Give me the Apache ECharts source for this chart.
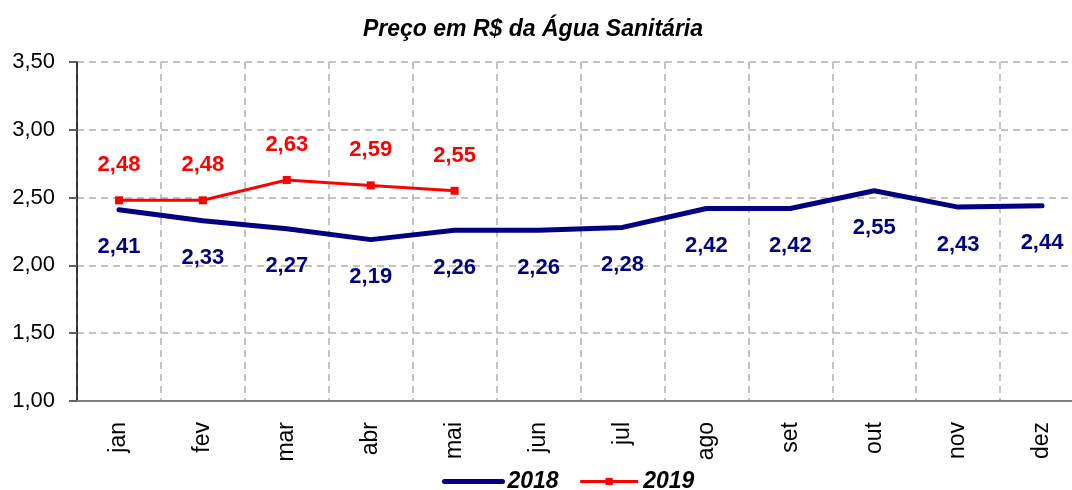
<!DOCTYPE html>
<html>
<head>
<meta charset="utf-8">
<script src="https://cdn.jsdelivr.net/npm/echarts@6/dist/echarts.min.js"></script>
<style>
  html, body { margin: 0; padding: 0; background: #fff; overflow: hidden; }
  #chart { width: 1084px; height: 490px; }
</style>
</head>
<body>
<div id="chart"></div>
<script>
const months = ['jan', 'fev', 'mar', 'abr', 'mai', 'jun', 'jul', 'ago', 'set', 'out', 'nov', 'dez']
const values2018 = [2.41, 2.33, 2.27, 2.19, 2.26, 2.26, 2.28, 2.42, 2.42, 2.55, 2.43, 2.44]
const values2019 = [2.48, 2.48, 2.63, 2.59, 2.55]

const fmt = v => v.toFixed(2).replace('.', ',')
const font = 'Liberation Sans, Arial, sans-serif'

// the plot runs a little past the right edge of the picture, as in the original
const chart = echarts.init(document.getElementById('chart'))
chart.setOption({
  animation: false,
  title: {
    text: 'Preço em R$ da Água Sanitária',
    left: 358,
    top: 13,
    textStyle: { fontFamily: font, fontSize: 23, fontWeight: 'bold', fontStyle: 'italic', color: '#000' }
  },
  grid: { left: 77, top: 62, right: 0, bottom: 89, containLabel: false },
  legend: {
    bottom: -8,
    left: 437,
    itemWidth: 58,
    itemHeight: 9,
    itemGap: 20,
    textStyle: { fontFamily: font, fontSize: 23, fontWeight: 'bold', fontStyle: 'italic', color: '#000' },
    data: [
      { name: '2018', lineStyle: { width: 5 } },
      { name: '2019', lineStyle: { width: 3 } }
    ]
  },
  xAxis: {
    type: 'category',
    data: months,
    boundaryGap: true,
    axisLine: { lineStyle: { color: '#808080', width: 2 } },
    axisTick: { length: 8, lineStyle: { color: '#606060', width: 2 } },
    axisLabel: { rotate: 90, margin: 21, fontFamily: font, fontSize: 23, color: '#000' },
    splitLine: { show: true, lineStyle: { color: '#b0b0b0', type: [7, 5], width: 1.5 } }
  },
  yAxis: {
    type: 'value',
    min: 1,
    max: 3.5,
    interval: 0.5,
    axisLine: { show: true, lineStyle: { color: '#000', width: 1.5 } },
    axisTick: { show: true, length: 8, lineStyle: { color: '#606060', width: 2 } },
    axisLabel: { formatter: fmt, margin: 22, fontFamily: font, fontSize: 22, color: '#000' },
    splitLine: { show: true, lineStyle: { color: '#b0b0b0', type: [7, 5], width: 1.5 } }
  },
  series: [
    {
      name: '2018',
      type: 'line',
      data: values2018,
      symbol: 'circle',
      symbolSize: 1,
      showAllSymbol: true,
      color: '#000080',
      itemStyle: { color: 'rgba(0,0,0,0)' },
      lineStyle: { color: '#000080', width: 5, cap: 'round' },
      label: {
        show: true,
        position: 'bottom',
        distance: 26,
        formatter: p => fmt(p.value),
        fontFamily: font, fontSize: 22, fontWeight: 'bold', color: '#000080'
      }
    },
    {
      name: '2019',
      type: 'line',
      data: values2019,
      symbol: 'rect',
      symbolSize: 8,
      showAllSymbol: true,
      color: '#ff0000',
      itemStyle: { color: '#ff0000' },
      lineStyle: { color: '#ff0000', width: 3 },
      label: {
        show: true,
        position: 'top',
        distance: 20,
        formatter: p => fmt(p.value),
        fontFamily: font, fontSize: 22, fontWeight: 'bold', color: '#ff0000'
      }
    }
  ]
})
</script>
</body>
</html>
